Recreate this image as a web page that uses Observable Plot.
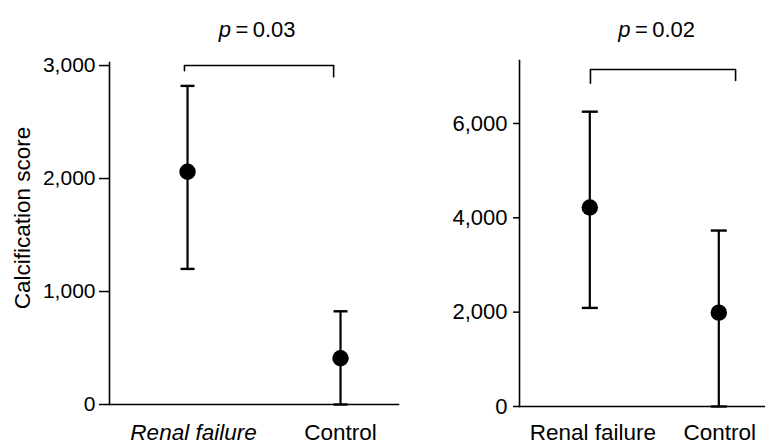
<!DOCTYPE html>
<html><head><meta charset="utf-8">
<script src="https://cdn.jsdelivr.net/npm/d3@7"></script>
<script src="https://cdn.jsdelivr.net/npm/@observablehq/plot@0.6"></script>
<style>
body{margin:0;background:#fff;}
#wrap{display:flex;width:765px;height:447px;overflow:hidden;background:#fff;}
#wrap svg{display:block;}
</style></head><body><div id="wrap"></div>
<script>
// ---- data ----
const groups = ["Renal failure", "Control"];
const leftMean = [2060, 410];
const leftHigh = [2820, 825];
const leftLow = [1200, 0];
const rightMean = [4220, 1990];
const rightHigh = [6250, 3730];
const rightLow = [2090, 0];
const leftTicks = [0, 1000, 2000, 3000];
const rightTicks = [0, 2000, 4000, 6000];
const leftP = "0.03";
const rightP = "0.02";
const yLabel = "Calcification score";
const leftBracketX = [-0.02, -0.02, 0.955, 0.955];
const leftBracketY = [2955, 3000, 3000, 2900];
const rightBracketX = [0.005, 0.005, 1.13, 1.13];
const rightBracketY = [6855, 7145, 7145, 6910];

const font = "'Liberation Sans', Arial, Helvetica, sans-serif";
const capSymbol = {draw(ctx, size) { const r = Math.sqrt(size / Math.PI); ctx.moveTo(-r, 0); ctx.lineTo(r, 0); }};

function panel(cfg) {
  const rows = groups.map((g, i) => ({g, i, mean: cfg.mean[i], hi: cfg.high[i], lo: cfg.low[i]}));
  const bracket = cfg.bx.map((x, i) => ({x, y: cfg.by[i]}));
  const marks = [
    Plot.frame({anchor: "left", strokeWidth: 1.6}),
    Plot.frame({anchor: "bottom", strokeWidth: 1.6}),
    Plot.axisY({ticks: cfg.ticks, tickFormat: d3.format(","), tickSize: cfg.tickSize, tickPadding: cfg.tickPadding, fontSize: cfg.tickFont, label: null, strokeWidth: 1.5}),
    Plot.axisX({ticks: [0], tickFormat: i => groups[i], tickSize: 0, tickPadding: cfg.xPad, fontSize: 22.5, fontStyle: cfg.italic ? "italic" : "normal", dx: cfg.xdx[0], label: null}),
    Plot.axisX({ticks: [1], tickFormat: i => groups[i], tickSize: 0, tickPadding: cfg.xPad, fontSize: 22.5, dx: cfg.xdx[1], label: null}),
    Plot.ruleX(rows, {x: "i", y1: "lo", y2: "hi", strokeWidth: 2.2}),
    Plot.dot(rows, {x: "i", y: "hi", symbol: capSymbol, r: cfg.capR, fill: "none", stroke: "black", strokeWidth: 2.4}),
    Plot.dot(rows, {x: "i", y: "lo", symbol: capSymbol, r: cfg.capR, fill: "none", stroke: "black", strokeWidth: 2.4}),
    Plot.dot(rows, {x: "i", y: "mean", r: 8.2, fill: "black", stroke: "none"}),
    Plot.line(bracket, {x: "x", y: "y", strokeWidth: 1.6, curve: "linear"}),
    Plot.text(["p"], {text: d => d, frameAnchor: "top", dx: cfg.pdx, dy: cfg.pdy, textAnchor: "end", fontStyle: "italic", fontSize: 22}),
    Plot.text(["\u2009=\u2009" + cfg.p], {text: d => d, frameAnchor: "top", dx: cfg.pdx, dy: cfg.pdy, textAnchor: "start", fontSize: 22})
  ];
  if (cfg.ylabel) {
    marks.push(Plot.text([cfg.ylabel], {text: d => d, frameAnchor: "left", dx: -87, dy: -15.5, rotate: -90, textAnchor: "middle", fontSize: 22.5}));
  }
  return Plot.plot({
    width: cfg.width, height: 447,
    marginLeft: cfg.ml, marginRight: cfg.mr, marginTop: cfg.mt, marginBottom: cfg.mb,
    style: {fontFamily: font, background: "#fff", color: "#000", overflow: "visible"},
    x: {type: "linear", domain: cfg.xdomain},
    y: {domain: cfg.ydomain},
    marks
  });
}

const wrap = document.getElementById("wrap");
wrap.appendChild(panel({
  width: 400, ml: 109, mr: 2, mt: 62, mb: 43,
  xdomain: [-0.510, 1.379], ydomain: [0, 3027],
  mean: leftMean, high: leftHigh, low: leftLow, ticks: leftTicks,
  tickSize: 10, tickPadding: 4, tickFont: 21, xPad: 20, italic: true, xdx: [6, 0],
  capR: 7, bx: leftBracketX, by: leftBracketY, p: leftP, pdx: -23, pdy: -40.7, ylabel: yLabel
}));
wrap.appendChild(panel({
  width: 365, ml: 119, mr: 0, mt: 60, mb: 41,
  xdomain: [-0.545, 1.362], ydomain: [0, 7335],
  mean: rightMean, high: rightHigh, low: rightLow, ticks: rightTicks,
  tickSize: 6, tickPadding: 6, tickFont: 22, xPad: 18, italic: false, xdx: [3, 1],
  capR: 8, bx: rightBracketX, by: rightBracketY, p: rightP, pdx: -12, pdy: -38.7, ylabel: null
}));
</script>
</body></html>
